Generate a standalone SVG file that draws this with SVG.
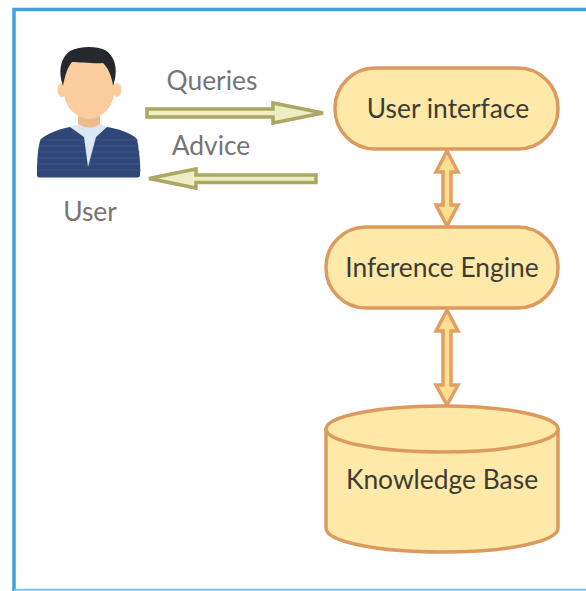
<svg xmlns="http://www.w3.org/2000/svg" width="586" height="591" viewBox="0 0 586 591">
<style>
text{font-family:Lato,"Liberation Sans",sans-serif;font-size:26.4px;text-anchor:middle}
.g{fill:#757575}.d{fill:#3c3c34}
.n{fill:#fee9a8;stroke:#dc9a5f;stroke-width:3.5}
.a{fill:#eeedc6;stroke:#aca762;stroke-width:3.5;stroke-linejoin:miter}
.b{fill:#fee08f;stroke:#e0a063;stroke-width:3.5;stroke-linejoin:miter}
</style>
<rect width="586" height="591" fill="#fff"/>
<path d="M586 9.500H14V591" fill="none" stroke="#3fa0e2" stroke-width="3.500"/>
<path d="M14 589.800H586" fill="none" stroke="#7cc4f3" stroke-width="2"/>
<g id="user">
<path d="M37 175C37 160 38 144 41 139C50 132 60 129 70 127L90 126L107 127C118 129 130 132 137 139C139 150 141 165 140 175C140 177 139 177.500 136 177.500H41C38 177.500 37 177 37 175Z" fill="#2f4679"/>
<g stroke="#4a5f90" stroke-width="1" opacity=".6"><path d="M40 140H138M39 146H139M39 152H140M38 158H140M38 164H140M38 170H141"/></g>
<path d="M70 127L82 123H98L107 127L96 137L88 167L84 137Z" fill="#dbe7f3"/>
<path d="M78 114H100V124Q90 131 78 124Z" fill="#eebb8c"/>
<ellipse cx="62" cy="90" rx="4.500" ry="7" fill="#fbcc9e"/>
<ellipse cx="117" cy="90" rx="4.500" ry="7" fill="#fbcc9e"/>
<path d="M64 60H114V92C114 107 101 119 89 119C77 119 64 107 64 92Z" fill="#fbcc9e"/>
<path d="M63 86C58 72 60 58 70 51C80 46 96 46 105 50C115 56 119 70 113 86C112 76 108 68 103 63C95 64 80 62 72 62C67 68 65 76 63 86Z" fill="#25292d"/>
<text class="g" x="90" y="221">User</text>
</g>
<g id="connectors">
<path class="a" d="M147 109H273V103L323 113L273 123V117H147Z"/>
<path class="a" d="M316 175H196V169L149 178.500L196 188V182.500H316Z"/>
<path class="b" d="M447 151L458 172H451V205H458L447 226L436 205H443V172H436Z"/>
<path class="b" d="M447 310L458 331H451V385H458L447 405L436 385H443V331H436Z"/>
</g>
<text class="g" x="212" y="90">Queries</text>
<text class="g" x="211" y="155">Advice</text>
<g id="user-interface">
<rect class="n" x="335" y="68" width="223" height="81" rx="40"/>
<text class="d" x="448" y="118">User interface</text>
</g>
<g id="inference-engine">
<rect class="n" x="326" y="227" width="232" height="81" rx="40"/>
<text class="d" x="442" y="277">Inference Engine</text>
</g>
<g id="knowledge-base">
<path class="n" d="M326 428V528C326 542 378 552 442 552C506 552 558 542 558 528V428"/>
<ellipse class="n" cx="442" cy="429" rx="116" ry="23"/>
<text class="d" x="442" y="489">Knowledge Base</text>
</g>
</svg>
